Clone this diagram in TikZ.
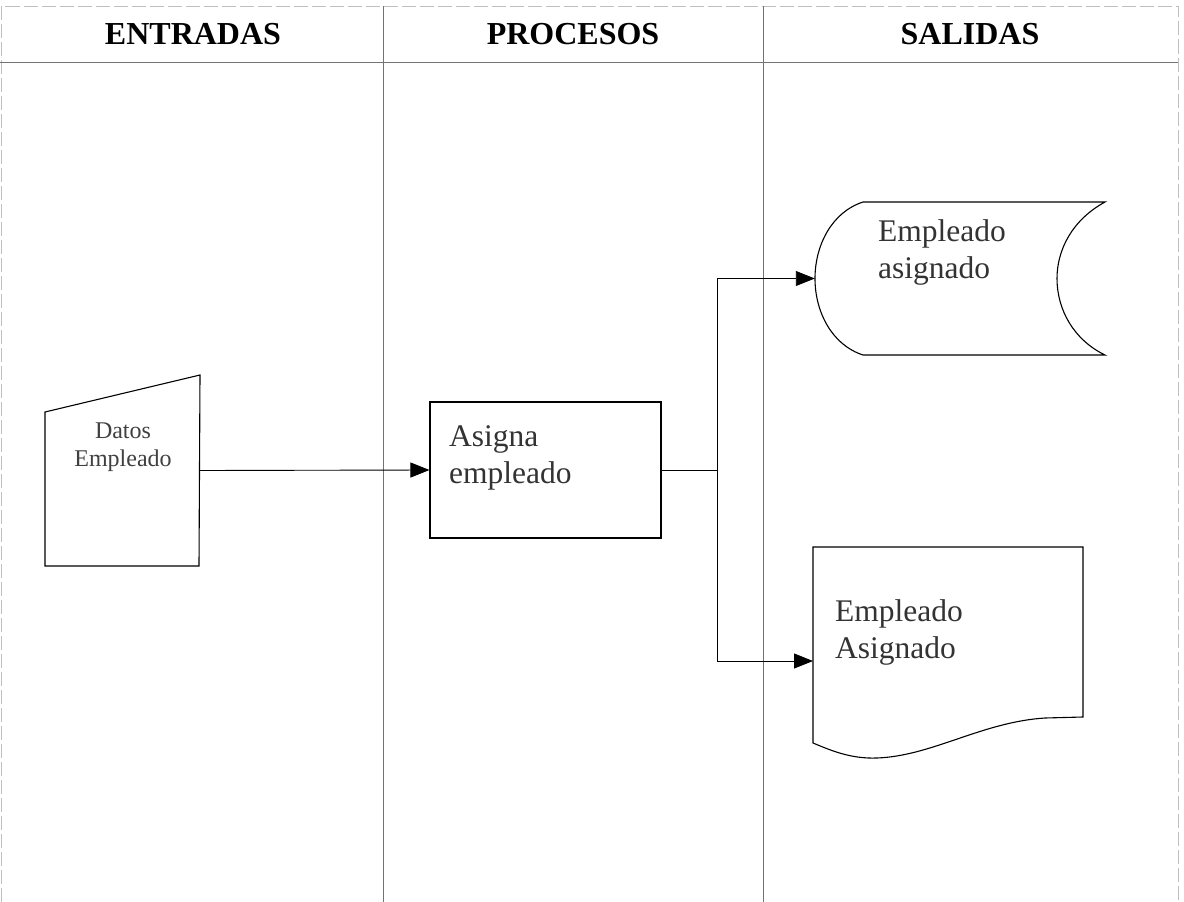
\documentclass[tikz,border=0pt]{standalone}
\usepackage{fontspec}
\setmainfont{Liberation Serif}
\usetikzlibrary{arrows.meta, positioning}

\begin{document}
\begin{tikzpicture}[x=1pt, y=-1pt,
    shape line/.style={line width=1.1pt, black},
    flow/.style={line width=0.9pt, -{Triangle[length=19pt, width=15pt]}},
    lane/.style={line width=0.8pt, black!55},
    frame/.style={line width=0.8pt, black!25, dashed, dash pattern=on 14pt off 4pt},
    head/.style={font=\fontsize{32}{37}\selectfont\bfseries, anchor=base},
    lbl/.style={font=\fontsize{31.5}{37}\selectfont, text=black!80, align=left, inner sep=0pt, anchor=north west},
    small lbl/.style={font=\fontsize{24}{28}\selectfont, text=black!75, align=center, inner sep=0pt, anchor=north}]
  \useasboundingbox (0,0) rectangle (1184,902);
  % Frame and lanes
  \draw[frame] (1.5,902) -- (1.5,6) -- (1178,6) -- (1178,902);
  \draw[lane] (0,62) -- (1178,62);
  \draw[lane] (383,6) -- (383,902);
  \draw[lane] (763,6) -- (763,902);
  % Headers
  \node[head] (hent) at (193,44) {ENTRADAS};
  \node[head] (hpro) at (573,44) {PROCESOS};
  \node[head] (hsal) at (970,44) {SALIDAS};
  % Manual input
  \draw[shape line] (45,412) -- (200,375) -- (199,566) -- (45,566) -- cycle;
  \node[inner sep=0pt, minimum width=155pt, minimum height=191pt] (datos) at (122.5,470.5) {};
  \node[small lbl] (tdatos) at (123,423) {Datos\\Empleado};
  % Process box
  \node[shape line, draw, inner sep=0pt, minimum width=231pt, minimum height=136pt] (asigna) at (545.5,470) {};
  \node[lbl] (tasigna) at (449,425) {Asigna\\empleado};
  % Display output
  \draw[shape line] (863,202) -- (1105,202)
    .. controls (1072,220) and (1057,250) .. (1057,278.5)
    .. controls (1057,310) and (1074,340) .. (1105,355)
    -- (863,355)
    .. controls (832,345) and (815,312) .. (815,278.5)
    .. controls (815,245) and (832,212) .. (863,202);
  \node[inner sep=0pt, minimum width=290pt, minimum height=153pt] (pantalla) at (960,278.5) {};
  \node[lbl] (tpantalla) at (878,219) {Empleado\\asignado};
  % Document output
  \draw[shape line] (813,547) -- (1083,547) -- (1083,717) -- (1045,718)
    .. controls (982,722) and (932,756) .. (877,758)
    .. controls (850,759) and (830,750) .. (813,743) -- cycle;
  \coordinate (docin) at (813,661);
  \node[lbl] (tdoc) at (835,599) {Empleado\\Asignado};
  % Connectors
  \coordinate (rama) at (717,470);
  \draw[flow] (datos.east) -- (asigna.west);
  \draw[line width=0.9pt] (asigna.east) -- (rama);
  \draw[flow] (rama) |- (pantalla.west);
  \draw[flow] (rama) |- (docin);
\end{tikzpicture}
\end{document}
